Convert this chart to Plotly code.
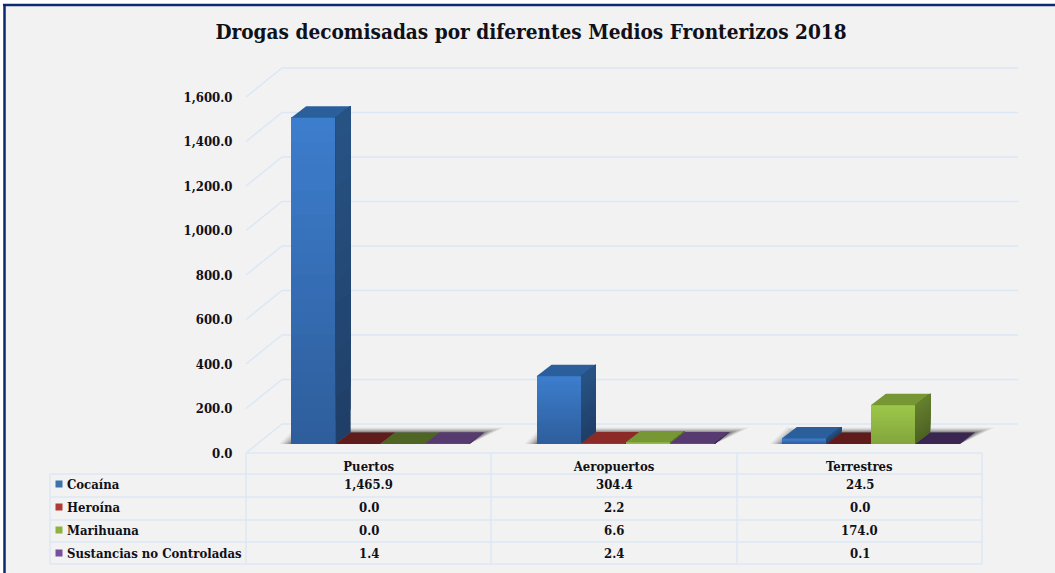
import plotly.graph_objects as go

categories = ["Puertos", "Aeropuertos", "Terrestres"]
cocaina = [1465.9, 304.4, 24.5]
heroina = [0.0, 2.2, 0.0]
marihuana = [0.0, 6.6, 174.0]
sustancias = [1.4, 2.4, 0.1]
series_names = ["Cocaína", "Heroína", "Marihuana", "Sustancias no Controladas"]
series_values = [cocaina, heroina, marihuana, sustancias]
y_ticks = [0, 200, 400, 600, 800, 1000, 1200, 1400, 1600]
title_text = "Drogas decomisadas por diferentes Medios Fronterizos 2018"

# front-top, front-bottom, side-top, side-bottom, top face, flat top face
palette = [
    ("#3D7ECF", "#2E5E9C", "#285486", "#1F3F68", "#2B5F9C", "#2B5F9C"),
    ("#B8403C", "#8C2A28", "#7A2422", "#601C1A", "#8C2A28", "#601C1A"),
    ("#9DC84A", "#83A53C", "#66822F", "#4D6322", "#769733", "#4F6524"),
    ("#7A5AA0", "#5E4380", "#4A3368", "#3A2650", "#573B70", "#3A2650"),
]
legend_colors = ["#3B72B0", "#B03A36", "#8CB23F", "#7650A0"]

W, H = 1055, 573
FONT = "DejaVu Serif Condensed, DejaVu Serif"
TXT = "#101018"
GRID = "#DCE7F5"
BG = "#F2F2F2"

# Scales: pixels per data unit
PX_X = 245.33
PX_Y = 356 / 1600
X0_PX, Y0_PX = 246, 453
x_range = [-0.5 - X0_PX / PX_X, -0.5 + (W - X0_PX) / PX_X]
y_range = [-(H - Y0_PX) / PX_Y, Y0_PX / PX_Y]

def ux(px):
    return px / PX_X

def uy(px):
    return px / PX_Y

WALL_DX, WALL_DY = ux(36), uy(29)
BAR_W = ux(44.5)
BAR_SHIFT_X, BAR_BASE = ux(11.5), uy(9)
BAR_DX, BAR_DY = ux(15), uy(11.5)
N_GRAD = 28
N_SIDE = 14

def mix(c1, c2, t):
    a = [int(c1[i:i + 2], 16) for i in (1, 3, 5)]
    b = [int(c2[i:i + 2], 16) for i in (1, 3, 5)]
    return "#%02X%02X%02X" % tuple(round(p + (q - p) * t) for p, q in zip(a, b))

fig = go.Figure()

# Grid: front-left diagonal + back wall line
gx, gy = [], []
for t in y_ticks:
    gx += [-0.5, -0.5 + WALL_DX, 2.5 + WALL_DX, None]
    gy += [t, t + WALL_DY, t + WALL_DY, None]
fig.add_trace(go.Scatter(x=gx, y=gy, mode="lines", line=dict(color=GRID, width=1.5),
                         hoverinfo="skip", showlegend=False))

# Soft floor shadow behind each group
for c in range(3):
    left = c + BAR_SHIFT_X - 2 * BAR_W
    right = c + BAR_SHIFT_X + 2 * BAR_W
    for e, a in [(20, 0.06), (16, 0.09), (12, 0.12), (8, 0.16), (4, 0.2), (1, 0.25)]:
        fig.add_trace(go.Scatter(
            x=[left - ux(e) * 0.6, right, right + BAR_DX + ux(e), left + BAR_DX - ux(e) * 0.5],
            y=[BAR_BASE, BAR_BASE, BAR_BASE + BAR_DY + uy(e) * 0.25, BAR_BASE + BAR_DY + uy(e) * 0.25],
            mode="lines", fill="toself", fillcolor=f"rgba(30,30,30,{a})", line=dict(width=0),
            hoverinfo="skip", showlegend=False))

# One overlaid axis pair per series so later series paint over earlier ones
for k, (vals, name, pal) in enumerate(zip(series_values, series_names, palette)):
    n = k + 2
    xa, ya = f"x{n}", f"y{n}"
    xs = [c + BAR_SHIFT_X + (k - 1.5) * BAR_W for c in range(3)]
    fig.add_trace(go.Bar(x=xs, y=vals, base=BAR_BASE, width=BAR_W, name=name,
                         marker=dict(color=pal[1], line=dict(width=0)),
                         xaxis=xa, yaxis=ya, showlegend=False))
    for i in range(1, N_GRAD):
        t = i / (N_GRAD - 1)
        fig.add_trace(go.Bar(x=xs, y=[v * (1 - t * 0.999) for v in vals],
                             base=[BAR_BASE + v * t * 0.999 for v in vals],
                             width=BAR_W, marker=dict(color=mix(pal[1], pal[0], t), line=dict(width=0)),
                             xaxis=xa, yaxis=ya, showlegend=False, hoverinfo="skip"))
    for xc, v in zip(xs, vals):
        l, r = xc - BAR_W / 2, xc + BAR_W / 2
        b, tp = BAR_BASE, BAR_BASE + v
        # top face
        fig.add_trace(go.Scatter(
            x=[l, r, r + BAR_DX, l + BAR_DX], y=[tp, tp, tp + BAR_DY, tp + BAR_DY],
            mode="lines", fill="toself", fillcolor=pal[4] if v >= 1 else pal[5], line=dict(width=0),
            xaxis=xa, yaxis=ya, hoverinfo="skip", showlegend=False))
        # side face
        if v >= 1:
            for i in range(N_SIDE):
                t0 = i / N_SIDE
                y0 = b + v * t0
                fig.add_trace(go.Scatter(
                    x=[r, r + BAR_DX, r + BAR_DX, r],
                    y=[y0, y0 + BAR_DY, tp + BAR_DY, tp],
                    mode="lines", fill="toself", fillcolor=mix(pal[3], pal[2], t0), line=dict(width=0),
                    xaxis=xa, yaxis=ya, hoverinfo="skip", showlegend=False))

# Table rules and texts (pixel layout)
def pxx(p):
    return p / W

def pxy(p):
    return 1 - p / H

shapes = [
    dict(type="rect", xref="paper", yref="paper", x0=pxx(5), x1=1, y0=0, y1=pxy(5),
         fillcolor=BG, line=dict(width=0), layer="below"),
    dict(type="line", xref="paper", yref="paper", x0=pxx(3), x1=1, y0=pxy(5), y1=pxy(5),
         line=dict(color="#0B2A6F", width=2.5)),
    dict(type="line", xref="paper", yref="paper", x0=pxx(4.5), x1=pxx(4.5), y0=0, y1=pxy(4),
         line=dict(color="#0B2A6F", width=2.5)),
]
row_lines = [474, 497, 520, 542, 564]
col_lines = [246, 491, 737, 982]
TLINE = dict(color=GRID, width=1.5)
for y in row_lines:
    shapes.append(dict(type="line", xref="paper", yref="paper", x0=pxx(50), x1=pxx(982),
                       y0=pxy(y), y1=pxy(y), line=TLINE))
shapes.append(dict(type="line", xref="paper", yref="paper", x0=pxx(246), x1=pxx(982),
                   y0=pxy(453), y1=pxy(453), line=TLINE))
shapes.append(dict(type="line", xref="paper", yref="paper", x0=pxx(50), x1=pxx(50),
                   y0=pxy(474), y1=pxy(564), line=TLINE))
for x in col_lines:
    shapes.append(dict(type="line", xref="paper", yref="paper", x0=pxx(x), x1=pxx(x),
                       y0=pxy(453), y1=pxy(564), line=TLINE))

row_centers = [484, 507, 530, 553]
col_centers = [368.5, 614, 859.5]
ann = []
tfont = dict(family=FONT, size=13, color=TXT, weight=700)
for r, (name, vals, rc, col) in enumerate(zip(series_names, series_values, row_centers, legend_colors)):
    shapes.append(dict(type="rect", xref="paper", yref="paper", x0=pxx(55.5), x1=pxx(62.5),
                       y0=pxy(rc + 3.5), y1=pxy(rc - 3.5), fillcolor=col, line=dict(width=0)))
    ann.append(dict(text=name, x=pxx(64.5), y=pxy(rc), xref="paper", yref="paper", xanchor="left",
                    yanchor="middle", showarrow=False, font=tfont))
    for v, cc in zip(vals, col_centers):
        ann.append(dict(text=f"{v:,.1f}", x=pxx(cc), y=pxy(rc), xref="paper", yref="paper",
                        xanchor="center", yanchor="middle", showarrow=False, font=tfont))

axis_common = dict(showgrid=False, zeroline=False, showline=False)
layout = dict(
    width=W, height=H, autosize=False, margin=dict(l=0, r=0, t=0, b=0),
    paper_bgcolor="#FFFFFF", plot_bgcolor="rgba(0,0,0,0)", barmode="overlay", bargap=0,
    showlegend=False, shapes=shapes, annotations=ann,
    title=dict(text=title_text, x=531 / W, y=1 - 32 / H, xref="paper", yref="paper",
               xanchor="center", yanchor="middle",
               font=dict(family=FONT, size=20.6, color=TXT, weight=700)),
    xaxis=dict(range=x_range, domain=[0, 1], anchor="free", position=(H - Y0_PX - 4) / H, side="bottom",
               tickmode="array", tickvals=[0, 1, 2], ticktext=categories, ticks="",
               tickfont=tfont, **axis_common),
    yaxis=dict(range=y_range, domain=[0, 1], anchor="free", position=X0_PX / W, side="left",
               tickmode="array", tickvals=y_ticks, tickformat=",.1f", ticks="outside",
               ticklen=11, tickcolor="rgba(0,0,0,0)",
               tickfont=tfont, **axis_common),
)
for k in range(len(series_values)):
    n = k + 2
    layout[f"xaxis{n}"] = dict(range=x_range, overlaying="x", visible=False, domain=[0, 1], anchor=f"y{n}")
    layout[f"yaxis{n}"] = dict(range=y_range, overlaying="y", visible=False, domain=[0, 1], anchor=f"x{n}")
fig.update_layout(**layout)

fig.write_html("out.html", config=dict(displayModeBar=False),
               post_script="document.body.style.margin='0';document.documentElement.style.overflow='hidden';")
